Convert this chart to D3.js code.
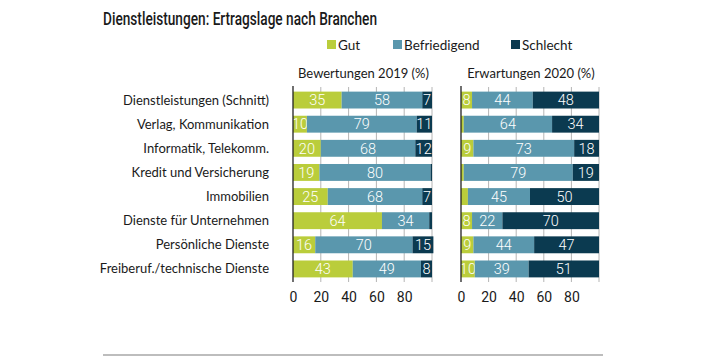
<!DOCTYPE html>
<html><head><meta charset="utf-8">
<script src="https://cdn.jsdelivr.net/npm/d3@7"></script>
<style>
body{margin:0;background:#fff;}
svg{display:block;}
text{fill:#1a1a1a;}
</style></head>
<body><svg id="c" width="720" height="360"></svg>
<script>
const categories = ["Dienstleistungen (Schnitt)","Verlag, Kommunikation","Informatik, Telekomm.","Kredit und Versicherung","Immobilien","Dienste für Unternehmen","Persönliche Dienste","Freiberuf./technische Dienste"];
const seriesNames = ["Gut","Befriedigend","Schlecht"];
const gut2019 = [35,10,20,19,25,64,16,43];
const bef2019 = [58,79,68,80,68,34,70,49];
const sch2019 = [7,11,12,1,7,2,15,8];
const gut2020 = [8,2,9,2,5,8,9,10];
const bef2020 = [44,64,73,79,45,22,44,39];
const sch2020 = [48,34,18,19,50,70,47,51];
const tickValues = [0,20,40,60,80];
const gridValues = [0,20,40,60,80,100];
const panelTitles = ["Bewertungen 2019 (%)","Erwartungen 2020 (%)"];
const title = "Dienstleistungen: Ertragslage nach Branchen";
const colors = ["#bacd3b","#5a97ad","#0b3a50"];

const svg = d3.select("#c");
const labelFont = "Lato, 'Open Sans', sans-serif";

svg.append("text").attr("x",103).attr("y",25)
  .attr("textLength",274).attr("lengthAdjust","spacingAndGlyphs")
  .style("font-family","Roboto, sans-serif").style("font-weight","500").style("font-size","18px")
  .text(title);

const legX = [327,393,511];
seriesNames.forEach((n,i)=>{
  svg.append("rect").attr("x",legX[i]).attr("y",40).attr("width",9).attr("height",9).attr("fill",colors[i]);
  svg.append("text").attr("x",legX[i]+11).attr("y",49.5)
    .style("font-family",labelFont).style("font-size","13.5px").text(n);
});

const y = d3.scaleBand().domain(categories).range([88,281]).paddingInner(0.3).paddingOuter(0.15);

const panels = [
  {x0:293,x1:432,data:[gut2019,bef2019,sch2019],title:panelTitles[0]},
  {x0:461,x1:599,data:[gut2020,bef2020,sch2020],title:panelTitles[1]}
];

panels.forEach(p=>{
  const x = d3.scaleLinear().domain([0,100]).range([p.x0,p.x1]);
  const g = svg.append("g");
  g.selectAll("line.grid").data(gridValues.slice(1)).join("line")
    .attr("x1",d=>x(d)).attr("x2",d=>x(d)).attr("y1",87).attr("y2",282)
    .attr("stroke","#b5b5b5").attr("stroke-width",1);
  const rows = categories.map((c,i)=>({cat:c, vals:p.data.map(s=>s[i])}));
  rows.forEach(r=>{
    let acc=0;
    r.vals.forEach((v,k)=>{
      const xs = x(acc), xe = x(acc+v);
      g.append("rect").attr("x",xs).attr("y",y(r.cat)).attr("width",Math.max(0,xe-xs)).attr("height",y.bandwidth()).attr("fill",colors[k]);
      if(v>=6){
        g.append("text").attr("x",(xs+xe)/2).attr("y",y(r.cat)+y.bandwidth()/2+5.2)
          .attr("text-anchor","middle").style("fill","#fff")
          .style("font-family","Roboto, sans-serif").style("font-weight","300").style("font-size","14.5px").text(v);
      }
      acc+=v;
    });
  });
  g.append("line").attr("x1",x(0)).attr("x2",x(0)).attr("y1",86).attr("y2",282).attr("stroke","#222").attr("stroke-width",1.3);
  const ax = g.append("g").attr("transform","translate(0,292)")
    .call(d3.axisBottom(x).tickValues(tickValues).tickSize(0).tickPadding(0));
  ax.select(".domain").remove();
  ax.selectAll("text").style("font-family","Roboto, sans-serif").style("font-size","14px").style("fill","#1a1a1a");
  svg.append("text").attr("x",(p.x0+p.x1)/2+1).attr("y",78).attr("text-anchor","middle")
    .style("font-family",labelFont).style("font-size","13px").text(p.title);
});

svg.selectAll("text.cat").data(categories).join("text").attr("class","cat")
  .attr("x",269).attr("y",d=>y(d)+y.bandwidth()/2+4.5).attr("text-anchor","end")
  .style("font-family",labelFont).style("font-size","13px").text(d=>d);

svg.append("line").attr("x1",103).attr("x2",603).attr("y1",355).attr("y2",355).attr("stroke","#bdbdbd").attr("stroke-width",2);
</script></body></html>
